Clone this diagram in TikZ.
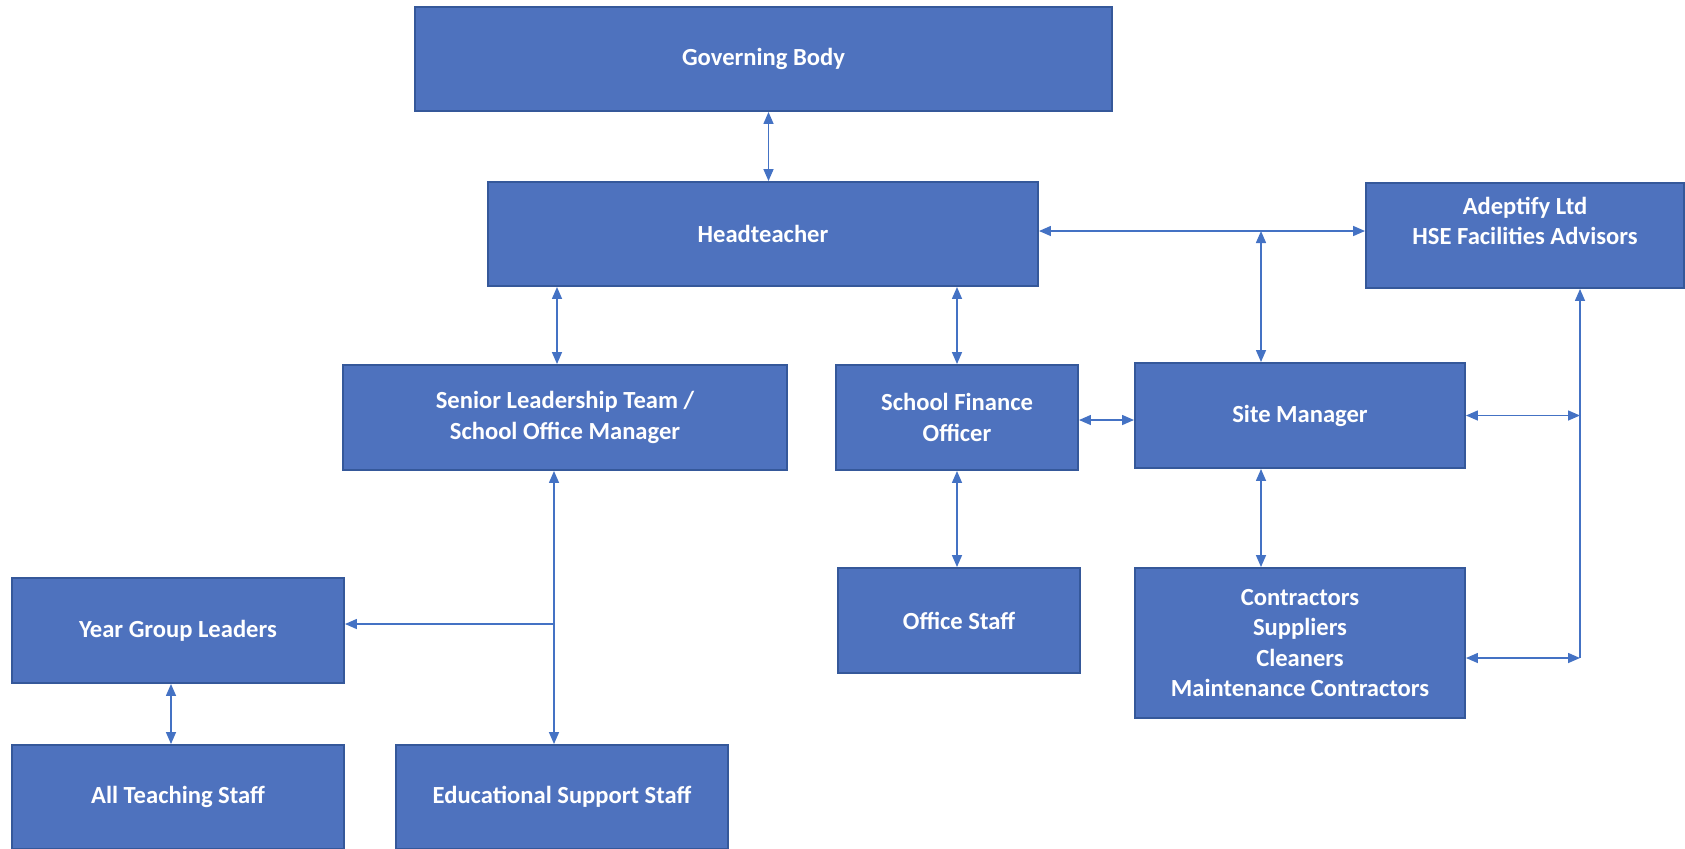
\documentclass[tikz,border=0pt]{standalone}
\usepackage{fontspec}
\setmainfont{Carlito}
\usetikzlibrary{%
  arrows.meta,%
  positioning,%
  calc%
}
\definecolor{boxblue}{HTML}{4E72BE}
\definecolor{boxedge}{HTML}{35589A}
\definecolor{lineblue}{HTML}{4472C4}

\begin{document}
\begin{tikzpicture}
[draw=lineblue, line width=0.85pt, >={Triangle[length=2.4mm,width=2mm]},
unit/.style={rectangle, draw=boxedge, line width=1.1pt, fill=boxblue, text=white, inner sep=0pt, align=center, font=\bfseries\fontsize{14}{17.2}\selectfont},
link/.style={draw=lineblue, line width=0.85pt, <->},
oneway/.style={draw=lineblue, line width=0.85pt, ->}]

\useasboundingbox (0,0) rectangle (33.7,-16.96);

\node[unit, minimum width=13.94cm, minimum height=2.08cm] (gb) at (15.27,-1.18) {Governing Body};
\node[unit, minimum width=11cm, minimum height=2.08cm] (hd) at (15.26,-4.68) {Headteacher};
\node[unit, minimum width=6.36cm, minimum height=2.1cm] (ad) at (30.5,-4.71) {};
\node[font=\bfseries\fontsize{14}{17.2}\selectfont, text=white, align=center] (adtxt) at (30.5,-4.42) {Adeptify Ltd\\HSE Facilities Advisors};

\node[unit, minimum width=8.88cm, minimum height=2.1cm] (slt) at (11.3,-8.35) {Senior Leadership Team /\\School Office Manager};
\node[unit, minimum width=4.84cm, minimum height=2.1cm] (sfo) at (19.14,-8.35) {School Finance\\Officer};
\node[unit, minimum width=6.6cm, minimum height=2.1cm] (sm) at (26,-8.31) {Site Manager};

\node[unit, minimum width=6.64cm, minimum height=2.1cm] (ygl) at (3.56,-12.61) {Year Group Leaders};
\node[unit, minimum width=4.84cm, minimum height=2.1cm] (os) at (19.18,-12.41) {Office Staff};
\node[unit, minimum width=6.6cm, minimum height=3cm] (con) at (26,-12.86) {Contractors\\Suppliers\\Cleaners\\Maintenance Contractors};

\node[unit, minimum width=6.64cm, minimum height=2.08cm] (ats) at (3.56,-15.94) {All Teaching Staff};
\node[unit, minimum width=6.64cm, minimum height=2.08cm] (ess) at (11.24,-15.94) {Educational Support Staff};

\coordinate (jn) at (25.22,-4.62);
\coordinate (bus) at (31.6,-8.34);
\coordinate (spine) at (11.08,-12.48);

\draw[link] ([xshift=0.1cm]gb.south) -- ([xshift=0.1cm]gb.south |- hd.north);
\draw[link] ([xshift=-0.16cm]slt.north) -- ([xshift=-0.16cm]slt.north |- hd.south);
\draw[link] (sfo.north) -- (sfo.north |- hd.south);
\draw[link] (hd.east |- jn) -- (ad.west |- jn);
\draw[link] (sm.north -| jn) -- (jn);
\draw[link] ([yshift=-0.05cm]sfo.east) -- ([yshift=-0.05cm]sfo.east -| sm.west);
\draw[link] (sm.east) -- (sm.east -| bus);
\draw[link] ([yshift=-0.3cm]con.east) -- ([yshift=-0.3cm]con.east -| bus);
\draw[oneway] ([yshift=-0.3cm]con.east -| bus) -- (ad.south -| bus);
\draw[link] (sm.south -| jn) -- (con.north -| jn);
\draw[link] (sfo.south) -- (sfo.south |- os.north);
\draw[link] (slt.south -| spine) -- (ess.north -| spine);
\draw[oneway] (spine) -- (spine -| ygl.east);
\draw[link] ([xshift=-0.14cm]ygl.south) -- ([xshift=-0.14cm]ygl.south |- ats.north);
\end{tikzpicture}
\end{document}
